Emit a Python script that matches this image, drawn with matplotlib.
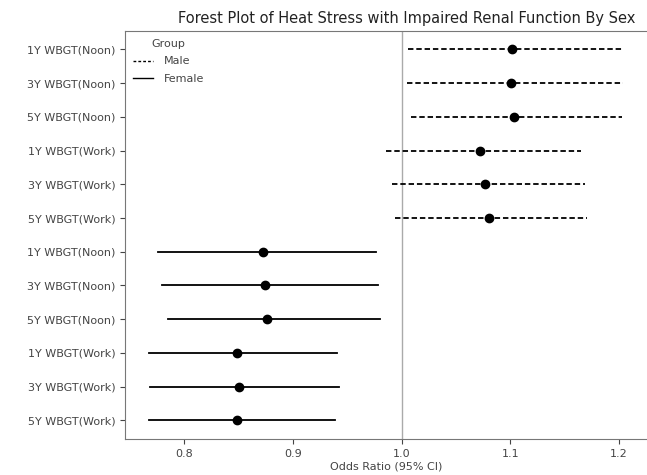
import matplotlib
matplotlib.use("Agg")
import matplotlib.pyplot as plt

# exposures, top to bottom (male block, then female block)
labels = ["1Y WBGT(Noon)", "3Y WBGT(Noon)", "5Y WBGT(Noon)",
          "1Y WBGT(Work)", "3Y WBGT(Work)", "5Y WBGT(Work)"]

male_or = [1.102, 1.101, 1.103, 1.072, 1.077, 1.080]
male_lo = [1.006, 1.005, 1.009, 0.986, 0.991, 0.994]
male_hi = [1.204, 1.204, 1.203, 1.165, 1.169, 1.171]

female_or = [0.872, 0.874, 0.876, 0.848, 0.850, 0.848]
female_lo = [0.776, 0.779, 0.785, 0.767, 0.768, 0.767]
female_hi = [0.976, 0.978, 0.980, 0.940, 0.942, 0.939]

fig = plt.figure(figsize=(6.47, 4.75), dpi=100)
ax = fig.add_axes([0.193, 0.076, 0.807, 0.859])

txt = "#444444"
dash = (0, (3, 1.6))
n = len(labels)
ym = list(range(n))
yf = [i + n for i in range(n)]

for i in range(n):
    ax.plot([male_lo[i], male_hi[i]], [ym[i], ym[i]], color="black", ls=dash, lw=1.3)
    ax.plot([female_lo[i], female_hi[i]], [yf[i], yf[i]], color="black", ls="-", lw=1.3)
ax.plot(male_or, ym, "o", color="black", ms=6)
ax.plot(female_or, yf, "o", color="black", ms=6)

ax.axvline(1.0, color="#aaaaaa", lw=1, zorder=0)

ax.set_yticks(ym + yf)
ax.set_yticklabels(labels + labels)
ax.invert_yaxis()
ax.set_xticks([0.8, 0.9, 1.0, 1.1, 1.2])

ax.plot([], [], color="black", ls=(0, (2, 1.5)), lw=1, label="Male")
ax.plot([], [], color="black", ls="-", lw=1, label="Female")
leg = ax.legend(title="Group", loc="upper left", frameon=False, fontsize=8,
                title_fontsize=8, handlelength=1.8, handletextpad=1.0,
                labelcolor=txt, labelspacing=0.7, borderaxespad=0.3)
leg.get_title().set_color(txt)

ax.tick_params(labelsize=8, colors=txt, length=3.5)
for side in ["left", "bottom", "top", "right"]:
    ax.spines[side].set_color("#777777")
ax.spines["right"].set_visible(False)

ax.set_xlabel("Odds Ratio (95% CI)", fontsize=8, color=txt, labelpad=2)
fig.text(407 / 647, 1 - 18 / 475, "Forest Plot of Heat Stress with Impaired Renal Function By Sex",
         fontsize=10.5, color="#222222", ha="center", va="center")

fig.savefig("out.png", dpi=100)
